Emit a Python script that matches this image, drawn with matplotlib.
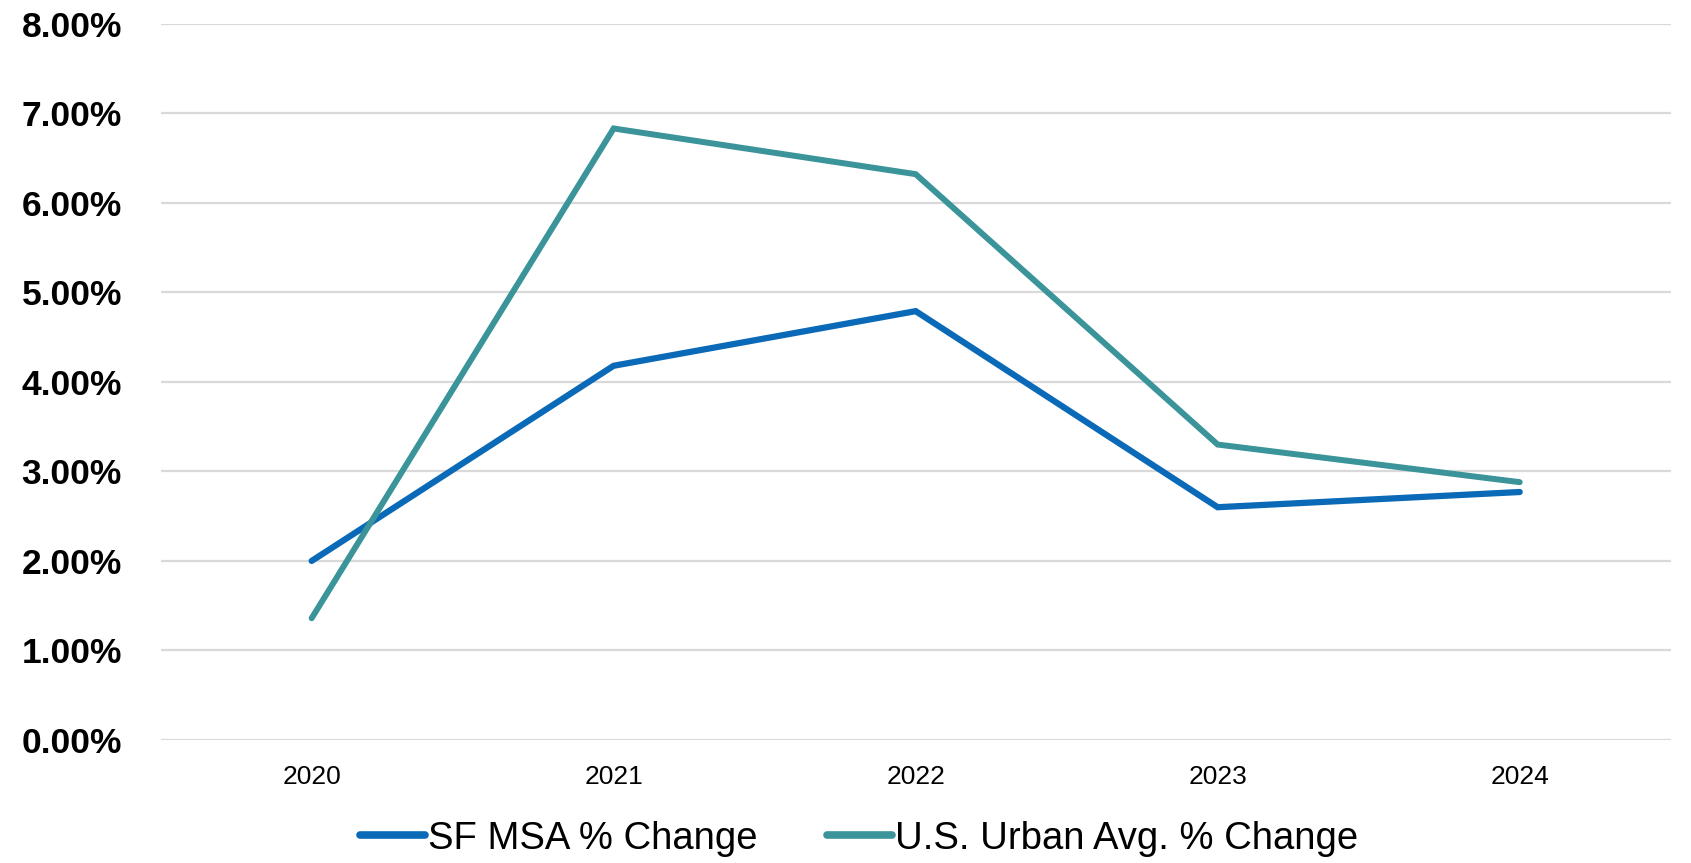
import matplotlib
matplotlib.use("Agg")
import matplotlib.pyplot as plt
from matplotlib.ticker import FuncFormatter, MultipleLocator

years = ["2020", "2021", "2022", "2023", "2024"]
sf_msa = [2.00, 4.18, 4.79, 2.60, 2.77]
us_urban = [1.36, 6.83, 6.32, 3.30, 2.88]
series_names = ["SF MSA % Change", "U.S. Urban Avg. % Change"]
colors = ["#0A6AB8", "#3A9499"]

plt.rcParams['font.family'] = ['Liberation Sans', 'DejaVu Sans']

fig = plt.figure(figsize=(16.91, 8.63), dpi=100)
ax = fig.add_axes([0.095, 0.1425, 0.893, 0.83])

x = list(range(len(years)))
ax.plot(x, sf_msa, color=colors[0], lw=4.5, solid_capstyle='round',
        solid_joinstyle='miter', label=series_names[0], zorder=3)
ax.plot(x, us_urban, color=colors[1], lw=4.3, solid_capstyle='round',
        solid_joinstyle='miter', label=series_names[1], zorder=3)

ax.set_xlim(-0.5, 4.5)
ax.set_ylim(0, 8)
ax.yaxis.set_major_locator(MultipleLocator(1))
ax.yaxis.set_major_formatter(FuncFormatter(lambda v, p: f"{v:.2f}%"))
ax.set_xticks(x)
ax.set_xticklabels(years)

ax.grid(axis='y', color='#D9D9D9', lw=1.6, zorder=0)
ax.set_axisbelow(True)
for s in ax.spines.values():
    s.set_visible(False)
ax.tick_params(axis='both', length=0)
ax.tick_params(axis='y', pad=28, labelsize=25.5)
ax.tick_params(axis='x', pad=18, labelsize=19)
for lab in ax.get_yticklabels():
    lab.set_fontweight('bold')

leg = fig.legend(loc='center', bbox_to_anchor=(0.508, 0.028), ncol=2,
                 frameon=False, fontsize=27.5, handlelength=1.7,
                 handletextpad=0.08, columnspacing=1.8)
for h in leg.get_lines():
    h.set_linewidth(5.5)
    h.set_solid_capstyle('round')

fig.savefig("out.png", dpi=100)
